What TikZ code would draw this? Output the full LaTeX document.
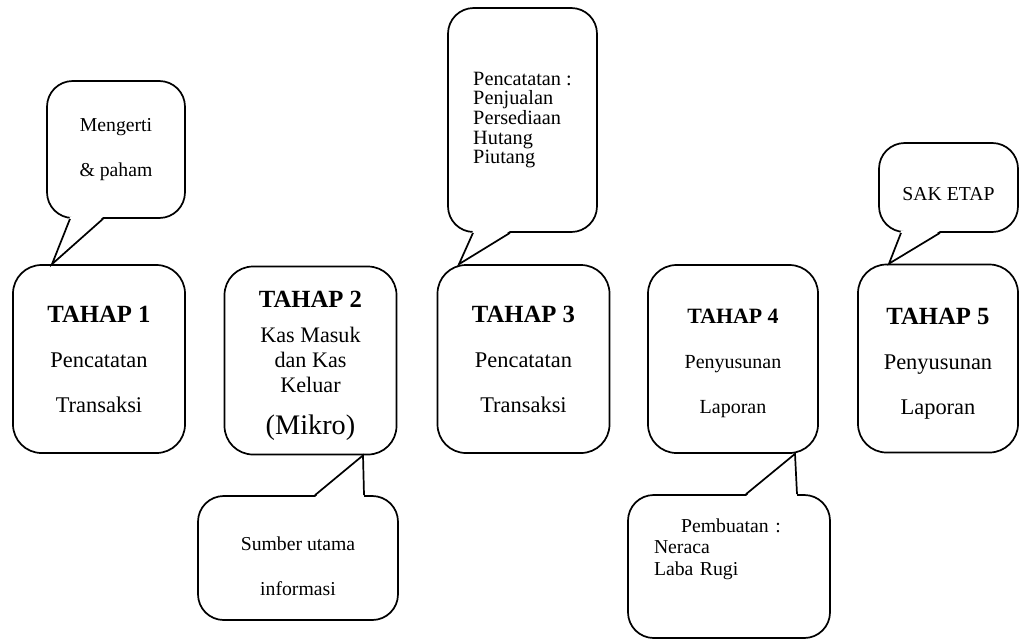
\documentclass[tikz,border=0pt]{standalone}
\usepackage{fontspec}
\setmainfont{Liberation Serif}
\usetikzlibrary{calc}

\begin{document}
\begin{tikzpicture}[
    x=0.7pt, y=-0.7pt,
    tahap/.style={draw, rounded corners=20pt, line width=1.2pt, inner sep=0pt,
        minimum width=120.4pt, minimum height=131.6pt, align=center,
        font=\fontsize{15.7}{31.5}\selectfont},
    bubble/.style={draw, rounded corners=18pt, line width=1.2pt, inner sep=0pt,
        align=center, font=\fontsize{13.8}{31.5}\selectfont},
    tail/.style={line width=1.2pt, line join=miter}
]
    \useasboundingbox (0,0) rectangle (1019,639);

    % --- TAHAP (main boxes) ---
    \node[tahap] (b1) at (99,359) {{\fontsize{17.3}{20}\selectfont\bfseries TAHAP 1}\\Pencatatan\\Transaksi};
    \node[tahap, font=\fontsize{15.5}{17.5}\selectfont] (b2) at (310.5,360.5)
        {\mbox{}\\[1.2pt]{\fontsize{17.3}{20}\selectfont\bfseries TAHAP 2}\\[7pt]Kas Masuk\\dan Kas\\Keluar\\[11.9pt]{\fontsize{19.8}{22}\selectfont (Mikro)}};
    \node[tahap] (b3) at (523.5,359) {{\fontsize{17.3}{20}\selectfont\bfseries TAHAP 3}\\Pencatatan\\Transaksi};
    \node[tahap, minimum width=119pt, font=\fontsize{14}{31.5}\selectfont] (b4) at (733,359)
        {\mbox{}\\[-15.6pt]{\fontsize{15.3}{18}\selectfont\bfseries TAHAP 4}\\Penyusunan\\Laporan};
    \node[tahap, minimum width=112pt] (b5) at (938,358.5)
        {\mbox{}\\[-12.8pt]{\fontsize{17.3}{20}\selectfont\bfseries TAHAP 5}\\Penyusunan\\Laporan};

    % --- CALLOUTS ---
    \node[bubble, minimum width=96.6pt, minimum height=95.9pt] (c1) at (116,149.5) {Mengerti\\\& paham};
    \node[bubble, minimum width=140pt, minimum height=86.8pt] (c2) at (298,558)
        {\mbox{}\\[-10.9pt]Sumber utama\\informasi};
    \node[bubble, minimum width=104.3pt, minimum height=156.8pt, align=left,
        font=\fontsize{14.2}{13.7}\selectfont] (c3) at (522.5,120)
        {Pencatatan :\\Penjualan\\Persediaan\\Hutang\\Piutang};
    \node[bubble, minimum width=141.4pt, minimum height=100.1pt, text width=105pt, align=left,
        font=\fontsize{13.8}{15}\selectfont] (c4) at (729,566.5)
        {\hspace*{19pt}Pembuatan :\\Neraca\\Laba Rugi\\[12.3pt]\mbox{}};
    \node[bubble, minimum width=97.3pt, minimum height=62.3pt] (c5) at (948.5,187.5)
        {\mbox{}\\[-12.6pt]SAK ETAP};

    % --- TAILS ---
    \coordinate (t1) at ($(b1.north)+(-47,0)$);
    \coordinate (t2) at ($(b2.south)+(52.5,0)$);
    \coordinate (t3) at ($(b3.north)+(-64.5,0)$);
    \coordinate (t4) at ($(b4.south)+(62,0)$);
    \coordinate (t5) at ($(b5.north)+(-49,0)$);

    % 1 (down to Tahap 1)
    \fill[white] ($(c1.south)+(-46,-2)$) -- (t1) -- ($(c1.south)+(-13,-2)$) -- cycle;
    \draw[tail] ($(c1.south)+(-46,0)$) -- (t1) -- ($(c1.south)+(-13,0)$);

    % 2 (up to Tahap 2)
    \fill[white] ($(c2.north)+(17,2)$) -- (t2) -- ($(c2.north)+(66,2)$) -- cycle;
    \draw[tail] ($(c2.north)+(17,0)$) -- (t2) -- ($(c2.north)+(66,0)$);

    % 3 (down to Tahap 3)
    \fill[white] ($(c3.south)+(-49.5,-2)$) -- (t3) -- ($(c3.south)+(-12.5,-2)$) -- cycle;
    \draw[tail] ($(c3.south)+(-49.5,0)$) -- (t3) -- ($(c3.south)+(-12.5,0)$);

    % 4 (up to Tahap 4)
    \fill[white] ($(c4.north)+(17,2)$) -- (t4) -- ($(c4.north)+(68,2)$) -- cycle;
    \draw[tail] ($(c4.north)+(17,0)$) -- (t4) -- ($(c4.north)+(68,0)$);

    % 5 (down to Tahap 5)
    \fill[white] ($(c5.south)+(-47.5,-2)$) -- (t5) -- ($(c5.south)+(-8.5,-2)$) -- cycle;
    \draw[tail] ($(c5.south)+(-47.5,0)$) -- (t5) -- ($(c5.south)+(-8.5,0)$);

\end{tikzpicture}
\end{document}
